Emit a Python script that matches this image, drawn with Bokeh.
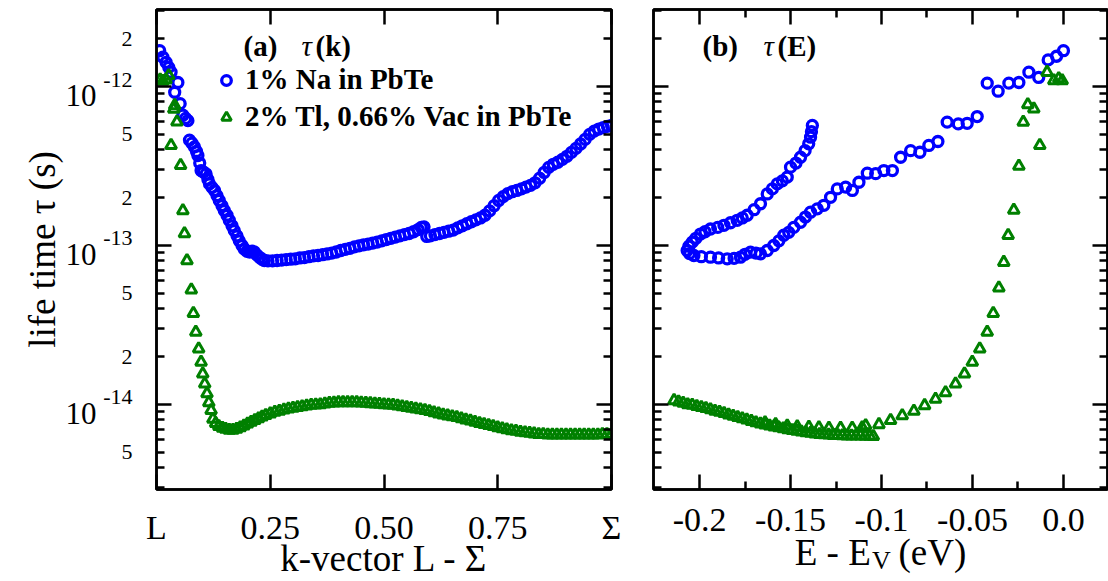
import math
from bokeh.plotting import figure
from bokeh.layouts import row
from bokeh.models import (Range1d, FixedTicker, LinearAxis, LogAxis, Label,
                          Legend, LegendItem, CustomJSTickFormatter)
from bokeh.embed import file_html
from bokeh.resources import INLINE

# ---------------- data ----------------
# (a) 1% Na in PbTe : tau(k)
NA_K = [0.007, 0.014, 0.021, 0.027, 0.032, 0.040, 0.047, 0.052, 0.058, 0.064, 0.069, 0.0725,
        0.078, 0.0835, 0.088, 0.091, 0.095, 0.098, 0.103, 0.109, 0.113, 0.1165, 0.122, 0.1275,
        0.133, 0.138, 0.144, 0.149, 0.155, 0.160, 0.166, 0.171, 0.177, 0.182, 0.188, 0.193,
        0.199, 0.205, 0.210, 0.215, 0.221, 0.227, 0.232, 0.237, 0.245, 0.255, 0.265, 0.275,
        0.285, 0.295, 0.305, 0.315, 0.325, 0.335, 0.345, 0.355, 0.365, 0.375, 0.385, 0.395,
        0.405, 0.415, 0.425, 0.435, 0.445, 0.455, 0.465, 0.475, 0.485, 0.495, 0.505, 0.515,
        0.525, 0.535, 0.545, 0.555, 0.565, 0.575, 0.582, 0.588, 0.594, 0.602, 0.612, 0.622,
        0.632, 0.642, 0.652, 0.662, 0.672, 0.682, 0.692, 0.702, 0.712, 0.722, 0.732, 0.742,
        0.752, 0.762, 0.772, 0.782, 0.792, 0.802, 0.812, 0.822, 0.832, 0.842, 0.852, 0.862,
        0.872, 0.882, 0.892, 0.902, 0.912, 0.922, 0.932, 0.942, 0.952, 0.962, 0.972, 0.982,
        0.991, 1.0]
NA_TAU_K = [1.68e-12, 1.53e-12, 1.42e-12, 1.32e-12, 1.23e-12, 9.2e-13, 1.06e-12, 7.8e-13,
            6.6e-13, 6.3e-13, 6.1e-13, 4.6e-13, 4.4e-13, 4.17e-13, 3.9e-13, 3.68e-13, 3.3e-13,
            2.96e-13, 2.9e-13, 2.82e-13, 2.6e-13, 2.44e-13, 2.32e-13, 2.22e-13, 2.06e-13,
            1.92e-13, 1.78e-13, 1.66e-13, 1.55e-13, 1.44e-13, 1.33e-13, 1.24e-13, 1.15e-13,
            1.07e-13, 1.0e-13, 9.5e-14, 9.2e-14, 9.1e-14, 9.2e-14, 9.1e-14, 8.7e-14, 8.4e-14,
            8.2e-14, 8.05e-14, 8.0e-14, 8.0e-14, 8.05e-14, 8.1e-14, 8.15e-14, 8.2e-14, 8.25e-14,
            8.35e-14, 8.4e-14, 8.5e-14, 8.6e-14, 8.65e-14, 8.75e-14, 8.85e-14, 8.95e-14, 9.1e-14,
            9.3e-14, 9.45e-14, 9.6e-14, 9.8e-14, 9.95e-14, 1.01e-13, 1.02e-13, 1.035e-13,
            1.05e-13, 1.07e-13, 1.09e-13, 1.11e-13, 1.13e-13, 1.15e-13, 1.17e-13, 1.19e-13,
            1.22e-13, 1.26e-13, 1.30e-13, 1.31e-13, 1.14e-13, 1.15e-13, 1.17e-13, 1.19e-13,
            1.21e-13, 1.23e-13, 1.25e-13, 1.29e-13, 1.33e-13, 1.37e-13, 1.41e-13, 1.45e-13,
            1.49e-13, 1.55e-13, 1.65e-13, 1.78e-13, 1.92e-13, 2.03e-13, 2.12e-13, 2.18e-13,
            2.22e-13, 2.27e-13, 2.33e-13, 2.39e-13, 2.48e-13, 2.65e-13, 2.88e-13, 3.1e-13,
            3.24e-13, 3.34e-13, 3.48e-13, 3.64e-13, 3.85e-13, 4.08e-13, 4.35e-13, 4.65e-13,
            5.0e-13, 5.24e-13, 5.4e-13, 5.52e-13, 5.62e-13, 5.7e-13]

# (a) 2% Tl, 0.66% Vac in PbTe : tau(k)
TL_K = [0.008, 0.014, 0.021, 0.027, 0.032, 0.038, 0.040, 0.045, 0.053, 0.058, 0.0615, 0.067,
        0.0765, 0.081, 0.0864, 0.0927, 0.098, 0.1017, 0.106, 0.111, 0.115, 0.120, 0.124,
        0.130, 0.137, 0.145, 0.152, 0.160, 0.168, 0.176, 0.184, 0.192, 0.200, 0.208, 0.216,
        0.224, 0.232, 0.240, 0.250, 0.260, 0.270, 0.280, 0.290, 0.300, 0.310, 0.320, 0.330,
        0.340, 0.350, 0.360, 0.370, 0.380, 0.390, 0.400, 0.410, 0.420, 0.430, 0.440, 0.450,
        0.460, 0.470, 0.480, 0.490, 0.500, 0.510, 0.520, 0.530, 0.540, 0.550, 0.560, 0.570,
        0.580, 0.590, 0.600, 0.610, 0.620, 0.630, 0.640, 0.650, 0.660, 0.670, 0.680, 0.690,
        0.700, 0.710, 0.720, 0.730, 0.740, 0.750, 0.760, 0.770, 0.780, 0.790, 0.800, 0.810,
        0.820, 0.830, 0.840, 0.850, 0.860, 0.870, 0.880, 0.890, 0.900, 0.910, 0.920, 0.930,
        0.940, 0.950, 0.960, 0.970, 0.980, 0.990, 1.000]
TL_TAU_K = [1.10e-12, 1.08e-12, 1.10e-12, 1.17e-12, 4.26e-13, 7.2e-13, 7.6e-13, 6.0e-13,
            3.19e-13, 1.66e-13, 1.19e-13, 8.05e-14, 5.26e-14, 3.75e-14, 2.85e-14, 2.24e-14,
            1.85e-14, 1.56e-14, 1.35e-14, 1.17e-14, 1.03e-14, 9.2e-15, 8.1e-15,
            7.6e-15, 7.3e-15, 7.1e-15, 7.0e-15, 6.9e-15, 6.9e-15, 7.0e-15, 7.15e-15, 7.35e-15,
            7.55e-15, 7.75e-15, 7.95e-15, 8.15e-15, 8.35e-15, 8.55e-15, 8.75e-15, 8.95e-15,
            9.1e-15, 9.25e-15, 9.4e-15, 9.5e-15, 9.6e-15, 9.7e-15, 9.8e-15, 9.9e-15, 9.95e-15,
            1.0e-14, 1.01e-14, 1.02e-14, 1.025e-14, 1.03e-14, 1.03e-14, 1.03e-14, 1.03e-14,
            1.03e-14, 1.025e-14, 1.02e-14, 1.015e-14, 1.01e-14, 1.005e-14, 1.0e-14, 9.95e-15,
            9.9e-15, 9.8e-15, 9.7e-15, 9.6e-15, 9.5e-15, 9.4e-15, 9.3e-15, 9.2e-15, 9.05e-15,
            8.9e-15, 8.75e-15, 8.6e-15, 8.5e-15, 8.4e-15, 8.3e-15, 8.15e-15, 8.0e-15, 7.9e-15,
            7.75e-15, 7.6e-15, 7.5e-15, 7.4e-15, 7.3e-15, 7.15e-15, 7.05e-15, 6.95e-15,
            6.85e-15, 6.8e-15, 6.7e-15, 6.65e-15, 6.6e-15, 6.55e-15, 6.5e-15, 6.5e-15,
            6.45e-15, 6.45e-15, 6.45e-15, 6.45e-15, 6.45e-15, 6.45e-15, 6.45e-15, 6.45e-15,
            6.45e-15, 6.45e-15, 6.45e-15, 6.45e-15, 6.5e-15, 6.5e-15, 6.5e-15]

# (b) 1% Na in PbTe : tau(E)
NA_E = [-0.138, -0.1385, -0.139, -0.140, -0.142, -0.1445, -0.147, -0.150, -0.1518, -0.1545,
        -0.1573, -0.160, -0.1628, -0.1665, -0.170, -0.1738, -0.1765, -0.1793, -0.183, -0.1866,
        -0.190, -0.194, -0.197, -0.1995, -0.202, -0.204, -0.2058, -0.2068, -0.2055, -0.2031,
        -0.199, -0.194, -0.1895, -0.1848, -0.181, -0.1775, -0.175, -0.172, -0.169, -0.1665,
        -0.1628, -0.1592, -0.1564, -0.1537, -0.151, -0.1482, -0.1445, -0.1418, -0.139,
        -0.1353, -0.1317, -0.128, -0.1243, -0.1197, -0.116, -0.1124, -0.1078, -0.1032,
        -0.0987, -0.094, -0.0895, -0.084, -0.0789, -0.074, -0.069, -0.0639, -0.0578, -0.0529,
        -0.0474, -0.0419, -0.0359, -0.030, -0.0245, -0.019, -0.0136, -0.0084, -0.0038, 0.0]
NA_TAU_E = [5.69e-13, 5.2e-13, 4.8e-13, 4.36e-13, 3.95e-13, 3.59e-13, 3.3e-13, 3.11e-13,
            2.69e-13, 2.55e-13, 2.44e-13, 2.27e-13, 2.11e-13, 1.83e-13, 1.68e-13, 1.55e-13,
            1.49e-13, 1.44e-13, 1.39e-13, 1.34e-13, 1.30e-13, 1.27e-13, 1.22e-13, 1.18e-13,
            1.11e-13, 1.05e-13, 9.9e-14, 9.3e-14, 8.9e-14, 8.65e-14, 8.5e-14, 8.44e-14,
            8.35e-14, 8.24e-14, 8.3e-14, 8.44e-14, 8.8e-14, 9.08e-14, 8.95e-14, 8.86e-14,
            9.3e-14, 1.0e-13, 1.07e-13, 1.16e-13, 1.21e-13, 1.30e-13, 1.40e-13, 1.51e-13,
            1.62e-13, 1.70e-13, 1.79e-13, 2.01e-13, 2.27e-13, 2.33e-13, 2.22e-13, 2.50e-13,
            2.85e-13, 2.83e-13, 2.96e-13, 2.96e-13, 3.59e-13, 3.95e-13, 3.86e-13, 4.26e-13,
            4.51e-13, 5.97e-13, 5.82e-13, 5.87e-13, 6.47e-13, 1.05e-12, 9.34e-13, 1.05e-12,
            1.06e-12, 1.23e-12, 1.14e-12, 1.47e-12, 1.55e-12, 1.68e-12]

# (b) 2% Tl, 0.66% Vac in PbTe : tau(E)
TL_E = [-0.2140, -0.2115, -0.2090, -0.2065, -0.2040, -0.2015, -0.1990, -0.1965, -0.1940,
        -0.1915, -0.1890, -0.1865, -0.1840, -0.1815, -0.1790, -0.1765, -0.1740, -0.1715,
        -0.1690, -0.1665, -0.1640, -0.1615, -0.1590, -0.1565, -0.1540, -0.1515, -0.1490,
        -0.1465, -0.1440, -0.1415, -0.1390, -0.1365, -0.1340, -0.1315, -0.1290, -0.1265,
        -0.1240, -0.1215, -0.1190, -0.1165, -0.1140, -0.1115, -0.1090, -0.1065, -0.1045,
        -0.1640, -0.1582, -0.1518, -0.1463, -0.1399, -0.1344, -0.1289, -0.1225, -0.1161,
        -0.1106, -0.1087, -0.1014, -0.0950, -0.0886, -0.0822, -0.0763, -0.0703, -0.0648,
        -0.0593, -0.0544, -0.0501, -0.0460, -0.0419, -0.0386, -0.0355, -0.0328, -0.0304,
        -0.0273, -0.0245, -0.0221, -0.0196, -0.0163, -0.0130, -0.0090, -0.0053, -0.0026,
        -0.0007]
TL_TAU_E = [1.06e-14, 1.04e-14, 1.02e-14, 1.0e-14, 9.9e-15, 9.75e-15, 9.6e-15, 9.45e-15,
            9.3e-15, 9.1e-15, 8.95e-15, 8.8e-15, 8.6e-15, 8.45e-15, 8.3e-15, 8.15e-15, 8.0e-15,
            7.85e-15, 7.7e-15, 7.55e-15, 7.45e-15, 7.35e-15, 7.25e-15, 7.15e-15, 7.05e-15,
            6.95e-15, 6.88e-15, 6.8e-15, 6.72e-15, 6.65e-15, 6.6e-15, 6.55e-15, 6.5e-15,
            6.47e-15, 6.44e-15, 6.41e-15, 6.39e-15, 6.37e-15, 6.36e-15, 6.35e-15, 6.35e-15,
            6.35e-15, 6.33e-15, 6.32e-15, 6.3e-15,
            7.7e-15, 7.5e-15, 7.35e-15, 7.25e-15, 7.2e-15, 7.15e-15, 7.1e-15, 7.1e-15, 7.1e-15,
            7.15e-15, 7.38e-15, 7.49e-15, 7.94e-15, 8.53e-15, 9.08e-15, 9.86e-15, 1.08e-14,
            1.19e-14, 1.35e-14, 1.56e-14, 1.85e-14, 2.24e-14, 2.85e-14, 3.75e-14, 5.42e-14,
            7.85e-14, 1.16e-13, 1.67e-13, 3.16e-13, 5.97e-13, 7.7e-13, 7.24e-13, 4.26e-13,
            1.23e-12, 1.09e-12, 1.12e-12, 1.09e-12]

# axis ticks and labels
Y_RANGE = (2.92e-15, 3.05e-12)
Y_DECADES = [1e-14, 1e-13, 1e-12]
Y_DECADE_BASE = ["10", "10", "10"]
Y_DECADE_EXP = ["-14", "-13", "-12"]
Y_MINOR = [3e-15, 4e-15, 5e-15, 6e-15, 7e-15, 8e-15, 9e-15,
           2e-14, 3e-14, 4e-14, 5e-14, 6e-14, 7e-14, 8e-14, 9e-14,
           2e-13, 3e-13, 4e-13, 5e-13, 6e-13, 7e-13, 8e-13, 9e-13,
           2e-12, 3e-12]
Y_SMALL_TICKS = [5e-15, 2e-14, 5e-14, 2e-13, 5e-13, 2e-12]
Y_SMALL_LABELS = ["5", "2", "5", "2", "5", "2"]
Y_TITLE = "life time τ (s)"

K_RANGE = (0.0, 1.0)
K_TICKS = [0, 0.25, 0.5, 0.75, 1]
K_LABELS = ["L", "0.25", "0.50", "0.75", "Σ"]
K_TITLE = "k-vector L - Σ"

E_RANGE = (-0.2253, 0.0242)
E_TICKS = [-0.2, -0.15, -0.1, -0.05, 0]
E_LABELS = ["-0.2", "-0.15", "-0.1", "-0.05", "0.0"]
E_MINOR = [-0.175, -0.125, -0.075, -0.025]
E_TITLE = "E - E\u00a0\u00a0\u00a0(eV)"   # "E - E_V (eV)", the subscript is set below
E_TITLE_SUB = ["V"]
E_TITLE_SUB_AT = [-0.1]

# ---------------- style ----------------
FONT = "Liberation Serif"
BLUE = "#0000ff"
GREEN = "#008000"
LW = 2.5
FRAME_H = 480
PX_PER_DECADE = FRAME_H / math.log10(Y_RANGE[1] / Y_RANGE[0])

LOOKUP = """
for (let i = 0; i < tv.length; i++) {
    if (Math.abs(tv[i] - tick) <= 1e-9 * Math.max(Math.abs(tv[i]), 1e-12)) { return tl[i]; }
}
return '';"""


def text_axis(p, side, ticks, labels, size, standoff, log=False):
    """An extra side axis without line/ticks, used to place gnuplot-like texts."""
    cls = LogAxis if log else LinearAxis
    ax = cls(ticker=FixedTicker(ticks=ticks, minor_ticks=[]),
             formatter=CustomJSTickFormatter(args=dict(tv=ticks, tl=labels), code=LOOKUP))
    ax.axis_line_color = None
    ax.major_tick_line_color = None
    ax.minor_tick_line_color = None
    ax.major_tick_in = 0
    ax.major_tick_out = 0
    ax.minor_tick_in = 0
    ax.minor_tick_out = 0
    ax.major_label_text_font = FONT
    ax.major_label_text_font_size = size
    ax.major_label_text_color = "black"
    ax.major_label_standoff = standoff
    p.add_layout(ax, side)
    return ax


def style_title(ax, text, size, standoff):
    ax.axis_label = text
    ax.axis_label_text_font = FONT
    ax.axis_label_text_font_size = size
    ax.axis_label_text_font_style = "normal"
    ax.axis_label_text_color = "black"
    ax.axis_label_standoff = standoff


def make_fig(xr, width, bl, br, xticks, xminor, xlabels):
    p = figure(width=width, height=581, x_range=Range1d(*xr), y_range=Range1d(*Y_RANGE),
               y_axis_type="log", output_backend="svg", toolbar_location=None,
               min_border_left=bl, min_border_right=br, min_border_top=9, min_border_bottom=92)
    p.grid.visible = False
    p.outline_line_color = "black"
    p.outline_line_width = LW
    p.background_fill_color = "white"
    p.border_fill_color = "white"
    xt = FixedTicker(ticks=xticks, minor_ticks=xminor)
    yt = FixedTicker(ticks=Y_DECADES, minor_ticks=Y_MINOR)
    p.xaxis.ticker = xt
    p.yaxis.ticker = yt
    p.add_layout(LinearAxis(ticker=xt), "above")
    p.add_layout(LogAxis(ticker=yt), "right")
    for ax in p.axis:
        ax.axis_line_width = LW
        ax.axis_line_color = "black"
        ax.major_tick_in = 15
        ax.major_tick_out = 0
        ax.minor_tick_in = 8
        ax.minor_tick_out = 0
        ax.major_tick_line_width = LW
        ax.minor_tick_line_width = LW
        ax.major_label_text_font_size = "0px"
        ax.major_label_standoff = 0
        ax.formatter = CustomJSTickFormatter(code="return '';")
    bottom = p.below[0]
    bottom.formatter = CustomJSTickFormatter(args=dict(tv=xticks, tl=xlabels), code=LOOKUP)
    bottom.major_label_text_font = FONT
    bottom.major_label_text_font_size = "34px"
    bottom.major_label_text_color = "black"
    bottom.major_label_standoff = 19
    return p


# ---------------- panel (a) ----------------
p1 = make_fig(K_RANGE, 632, 156, 21, K_TICKS, [], K_LABELS)
r_na = p1.scatter(NA_K, NA_TAU_K, marker="circle", size=10, fill_color=None,
                  line_color=BLUE, line_width=3.3)
r_tl = p1.scatter(TL_K, TL_TAU_K, marker="triangle", size=11, fill_color=None,
                  line_color=GREEN, line_width=3)

# gnuplot style y tick labels: exponent a bit above the decade tick, "10" a bit below
shift_down = 10 ** (-9 / PX_PER_DECADE)
shift_up = 10 ** (7 / PX_PER_DECADE)
exp_ticks = [d * shift_up for d in Y_DECADES]
inner = text_axis(p1, "left", exp_ticks + Y_SMALL_TICKS, Y_DECADE_EXP + Y_SMALL_LABELS,
                  "22px", 24, log=True)
outer = text_axis(p1, "left", [d * shift_down for d in Y_DECADES], Y_DECADE_BASE,
                  "31px", 4, log=True)
style_title(outer, Y_TITLE, "37px", 0)

# x axis title
style_title(p1.below[0], K_TITLE, "37px", -11)

# panel title
x0 = K_RANGE[0]
for txt, dx, style in [("(a)", 87, "bold"), ("τ", 145, "italic"), ("(k)", 159, "bold")]:
    p1.add_layout(Label(x=x0, y=Y_RANGE[1], x_offset=dx, y_offset=-36, text=txt,
                        text_align="left", text_baseline="middle", text_font=FONT,
                        text_font_size="29px", text_font_style=style, text_color="black"))

legend = Legend(items=[LegendItem(label="1% Na in PbTe", renderers=[r_na]),
                       LegendItem(label="2% Tl, 0.66% Vac in PbTe", renderers=[r_tl])],
                location=(58, 356), orientation="vertical", padding=0, margin=0, spacing=4,
                glyph_width=24, glyph_height=24, label_standoff=7,
                label_text_font=FONT, label_text_font_size="29px",
                label_text_font_style="bold", label_text_color="black",
                border_line_color=None, background_fill_alpha=0)
p1.add_layout(legend)

# ---------------- panel (b) ----------------
p2 = make_fig(E_RANGE, 476, 21, 1, E_TICKS, E_MINOR, E_LABELS)
p2.scatter(NA_E, NA_TAU_E, marker="circle", size=10, fill_color=None,
           line_color=BLUE, line_width=3.3)
p2.scatter(TL_E, TL_TAU_E, marker="triangle", size=11, fill_color=None,
           line_color=GREEN, line_width=3)

e0 = E_RANGE[0]
for txt, dx, style in [("(b)", 49, "bold"), ("τ", 110, "italic"), ("(E)", 124, "bold")]:
    p2.add_layout(Label(x=e0, y=Y_RANGE[1], x_offset=dx, y_offset=-36, text=txt,
                        text_align="left", text_baseline="middle", text_font=FONT,
                        text_font_size="29px", text_font_style=style, text_color="black"))

# x axis title "E - E_V (eV)"
style_title(p2.below[0], E_TITLE, "37px", -2)
text_axis(p2, "below", E_TITLE_SUB_AT, E_TITLE_SUB, "26px", -30)

layout = row(p1, p2, spacing=0)
open("out.html", "w").write(file_html(layout, INLINE))
